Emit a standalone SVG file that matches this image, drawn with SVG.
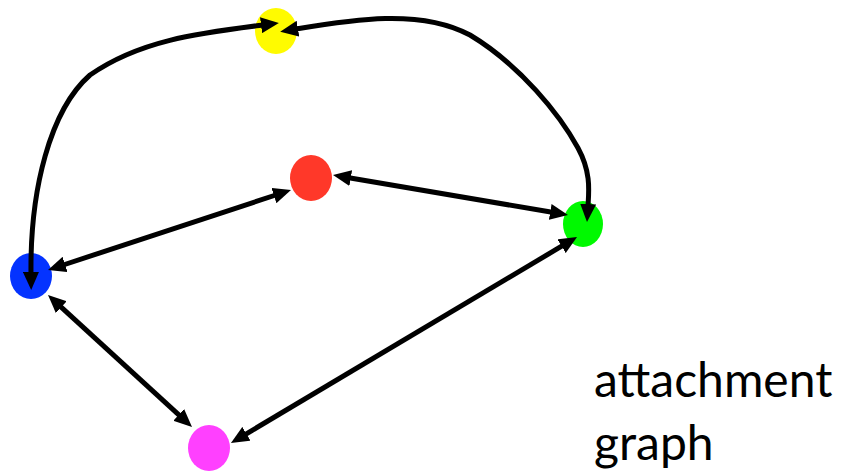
<svg xmlns="http://www.w3.org/2000/svg" width="844" height="471" viewBox="0 0 844 471">
  <style>
    .edge { fill: none; stroke: #000; stroke-width: 5; marker-start: url(#arr); marker-end: url(#arr); }
    .label { font-family: Lato, "Open Sans", "Liberation Sans", sans-serif; font-size: 48px; fill: #000; }
  </style>
  <defs>
    <marker id="arr" markerUnits="userSpaceOnUse" markerWidth="18" markerHeight="16" viewBox="0 0 18 16" refX="2" refY="8" orient="auto-start-reverse">
      <path d="M0,0 L18,8 L0,16 z" fill="#000"/>
    </marker>
  </defs>
  <g id="nodes">
    <g id="yellow"><ellipse cx="276" cy="31" rx="21" ry="23" fill="#FFFB00"/></g>
    <g id="red"><ellipse cx="311" cy="178" rx="21" ry="23" fill="#FF3829"/></g>
    <g id="green"><ellipse cx="583" cy="224" rx="20" ry="23" fill="#00F900"/></g>
    <g id="blue"><ellipse cx="31" cy="276" rx="21" ry="23" fill="#0433FF"/></g>
    <g id="pink"><ellipse cx="209" cy="448" rx="21" ry="23" fill="#FF40FF"/></g>
  </g>
  <g id="connectors">
    <path class="edge" d="M 31,274 C 30,190 50,110 90,75 C 140,40 200,33 263,25"/>
    <path class="edge" d="M 296,29 C 350,20 420,8 470,35 C 520,65 560,115 578,148 C 591,172 589,190 588,206"/>
    <path class="edge" d="M 63.2,265 L 275.8,195"/>
    <path class="edge" d="M 348.8,177.7 L 552.2,212.3"/>
    <path class="edge" d="M 59.8,305.8 L 180.2,416.2"/>
    <path class="edge" d="M 244.7,434.8 L 563.3,245.2"/>
  </g>
  <g id="caption">
    <text class="label" x="594" y="397">attachment</text>
    <text class="label" x="594" y="460">graph</text>
  </g>
</svg>
